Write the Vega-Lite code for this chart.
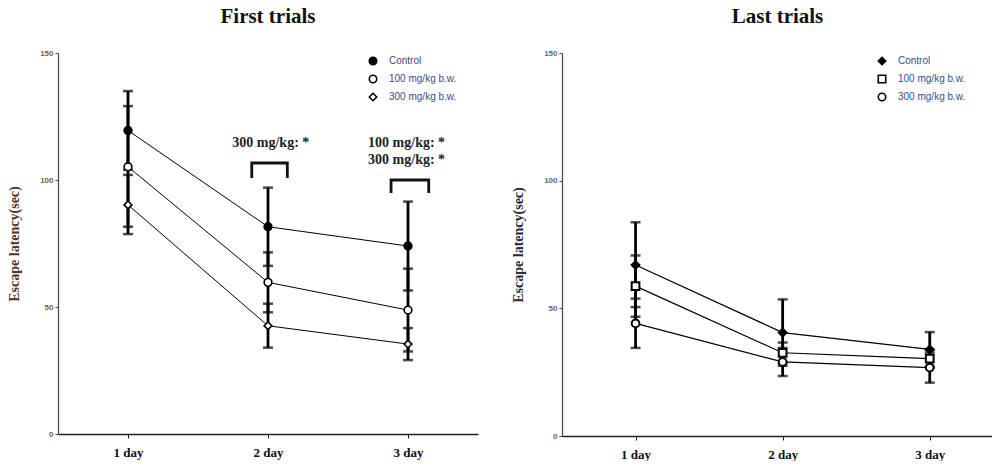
{
  "$schema": "https://vega.github.io/schema/vega-lite/v6.json",
  "padding": {"left": 7, "top": 6, "right": 0, "bottom": 0},
  "background": "white",
  "spacing": 33,
  "config": {
    "view": {"stroke": null},
    "title": {"font": "Liberation Serif", "fontSize": 21, "fontWeight": "bold", "color": "#111", "offset": 22},
    "axisY": {"labelFont": "Liberation Sans", "labelFontSize": 8, "labelFontWeight": "bold", "labelColor": "#8b5a2b", "tickSize": 3, "tickColor": "#444", "domainColor": "#444", "domainWidth": 1.2, "grid": false, "titleFont": "Liberation Serif", "titleFontSize": 14, "titleFontWeight": "bold", "titleColor": "#5a3320", "titlePadding": 18, "labelPadding": 2},
    "axisX": {"labelFont": "Liberation Serif", "labelFontSize": 13, "labelFontWeight": "bold", "labelColor": "#111", "tickSize": 4, "tickColor": "#222", "domainColor": "#222", "domainWidth": 1.6, "grid": false, "labelPadding": 8, "title": null},
    "legend": {"labelFont": "Liberation Sans", "labelFontSize": 10, "labelColor": "#3a4a8a", "labelOffset": 11, "rowPadding": 4, "symbolStrokeWidth": 1.6, "symbolSize": 55}
  },
  "datasets": {
    "first": [
      {"day": 1, "group": "Control", "mean": 119.5, "lo": 104, "hi": 135},
      {"day": 2, "group": "Control", "mean": 81.6, "lo": 66.2, "hi": 97},
      {"day": 3, "group": "Control", "mean": 74, "lo": 56.5, "hi": 91.5},
      {"day": 1, "group": "100 mg/kg b.w.", "mean": 105.2, "lo": 81.6, "hi": 129.1},
      {"day": 2, "group": "100 mg/kg b.w.", "mean": 59.7, "lo": 47.9, "hi": 71.5},
      {"day": 3, "group": "100 mg/kg b.w.", "mean": 48.8, "lo": 32.5, "hi": 65.1},
      {"day": 1, "group": "300 mg/kg b.w.", "mean": 90.2, "lo": 78.7, "hi": 102},
      {"day": 2, "group": "300 mg/kg b.w.", "mean": 42.6, "lo": 34, "hi": 51.3},
      {"day": 3, "group": "300 mg/kg b.w.", "mean": 35.4, "lo": 29.1, "hi": 41.7}
    ],
    "last": [
      {"day": 1, "group": "Control", "mean": 67, "lo": 50.5, "hi": 83.7},
      {"day": 2, "group": "Control", "mean": 40.5, "lo": 27.5, "hi": 53.5},
      {"day": 3, "group": "Control", "mean": 33.9, "lo": 27.1, "hi": 40.7},
      {"day": 1, "group": "100 mg/kg b.w.", "mean": 58.7, "lo": 46.7, "hi": 70.7},
      {"day": 2, "group": "100 mg/kg b.w.", "mean": 32.6, "lo": 28.6, "hi": 36.6},
      {"day": 3, "group": "100 mg/kg b.w.", "mean": 30.3, "lo": 26.8, "hi": 33.8},
      {"day": 1, "group": "300 mg/kg b.w.", "mean": 44.1, "lo": 34.5, "hi": 53.8},
      {"day": 2, "group": "300 mg/kg b.w.", "mean": 29, "lo": 23.5, "hi": 34.5},
      {"day": 3, "group": "300 mg/kg b.w.", "mean": 26.8, "lo": 20.9, "hi": 32.7}
    ],
    "notes": [
      {"x": 2.02, "y": 114.6, "label": "300 mg/kg: *"},
      {"x": 2.99, "y": 114.6, "label": "100 mg/kg: *"},
      {"x": 2.99, "y": 107.9, "label": "300 mg/kg: *"}
    ],
    "brackets": [
      {"b": "a", "o": 1, "x": 1.884, "y": 100.8},
      {"b": "a", "o": 2, "x": 1.884, "y": 106.7},
      {"b": "a", "o": 3, "x": 2.138, "y": 106.7},
      {"b": "a", "o": 4, "x": 2.138, "y": 100.8},
      {"b": "b", "o": 1, "x": 2.879, "y": 94.9},
      {"b": "b", "o": 2, "x": 2.879, "y": 100},
      {"b": "b", "o": 3, "x": 3.148, "y": 100},
      {"b": "b", "o": 4, "x": 3.148, "y": 94.9}
    ]
  },
  "hconcat": [
    {
      "title": "First trials",
      "width": 420,
      "height": 381,
      "layer": [
        {
          "data": {"name": "first"},
          "mark": {"type": "line", "color": "black", "strokeWidth": 1},
          "encoding": {
            "x": {"field": "day", "type": "quantitative", "scale": {"domain": [0.5, 3.5], "nice": false}, "axis": {"values": [1, 2, 3], "labelExpr": "datum.value + ' day'"}},
            "y": {"field": "mean", "type": "quantitative", "scale": {"domain": [0, 150], "nice": false}, "axis": {"values": [0, 50, 100, 150], "title": "Escape latency(sec)"}},
            "detail": {"field": "group"}
          }
        },
        {
          "data": {"name": "first"},
          "mark": {"type": "rule", "color": "black", "strokeWidth": 2.8},
          "encoding": {
            "x": {"field": "day", "type": "quantitative"},
            "y": {"field": "lo", "type": "quantitative"},
            "y2": {"field": "hi"}
          }
        },
        {
          "data": {"name": "first"},
          "mark": {"type": "tick", "color": "black", "orient": "horizontal", "size": 10, "thickness": 2.5},
          "encoding": {
            "x": {"field": "day", "type": "quantitative"},
            "y": {"field": "lo", "type": "quantitative"}
          }
        },
        {
          "data": {"name": "first"},
          "mark": {"type": "tick", "color": "black", "orient": "horizontal", "size": 10, "thickness": 2.5},
          "encoding": {
            "x": {"field": "day", "type": "quantitative"},
            "y": {"field": "hi", "type": "quantitative"}
          }
        },
        {
          "data": {"name": "first"},
          "mark": {"type": "point", "filled": true, "strokeWidth": 1.6, "size": 60, "opacity": 1},
          "encoding": {
            "x": {"field": "day", "type": "quantitative"},
            "y": {"field": "mean", "type": "quantitative"},
            "shape": {"field": "group", "type": "nominal", "scale": {"domain": ["Control", "100 mg/kg b.w.", "300 mg/kg b.w."], "range": ["circle", "circle", "diamond"]}, "legend": {"title": null, "orient": "none", "legendX": 310, "legendY": 3}},
            "fill": {"field": "group", "type": "nominal", "scale": {"domain": ["Control", "100 mg/kg b.w.", "300 mg/kg b.w."], "range": ["black", "white", "white"]}, "legend": {"title": null, "orient": "none", "legendX": 310, "legendY": 3}},
            "stroke": {"field": "group", "type": "nominal", "scale": {"domain": ["Control", "100 mg/kg b.w.", "300 mg/kg b.w."], "range": ["black", "black", "black"]}, "legend": {"title": null, "orient": "none", "legendX": 310, "legendY": 3}}
          }
        },
        {
          "data": {"name": "notes"},
          "mark": {"type": "text", "font": "Liberation Serif", "fontSize": 14, "fontWeight": "bold", "color": "#222", "baseline": "middle"},
          "encoding": {
            "x": {"field": "x", "type": "quantitative"},
            "y": {"field": "y", "type": "quantitative"},
            "text": {"field": "label"}
          }
        },
        {
          "data": {"name": "brackets"},
          "mark": {"type": "line", "color": "#111", "strokeWidth": 2.8},
          "encoding": {
            "x": {"field": "x", "type": "quantitative"},
            "y": {"field": "y", "type": "quantitative"},
            "detail": {"field": "b"},
            "order": {"field": "o"}
          }
        }
      ]
    },
    {
      "title": "Last trials",
      "width": 431,
      "height": 383,
      "layer": [
        {
          "data": {"name": "last"},
          "mark": {"type": "line", "color": "black", "strokeWidth": 1.2},
          "encoding": {
            "x": {"field": "day", "type": "quantitative", "scale": {"domain": [0.5, 3.43], "nice": false}, "axis": {"values": [1, 2, 3], "labelExpr": "datum.value + ' day'"}},
            "y": {"field": "mean", "type": "quantitative", "scale": {"domain": [0, 150], "nice": false}, "axis": {"values": [0, 50, 100, 150], "title": "Escape latency(sec)", "titleColor": "#2a2a3a", "labelColor": "#5a6a7a"}},
            "detail": {"field": "group"}
          }
        },
        {
          "data": {"name": "last"},
          "mark": {"type": "rule", "color": "black", "strokeWidth": 2.8},
          "encoding": {
            "x": {"field": "day", "type": "quantitative"},
            "y": {"field": "lo", "type": "quantitative"},
            "y2": {"field": "hi"}
          }
        },
        {
          "data": {"name": "last"},
          "mark": {"type": "tick", "color": "black", "orient": "horizontal", "size": 10, "thickness": 2.5},
          "encoding": {
            "x": {"field": "day", "type": "quantitative"},
            "y": {"field": "lo", "type": "quantitative"}
          }
        },
        {
          "data": {"name": "last"},
          "mark": {"type": "tick", "color": "black", "orient": "horizontal", "size": 10, "thickness": 2.5},
          "encoding": {
            "x": {"field": "day", "type": "quantitative"},
            "y": {"field": "hi", "type": "quantitative"}
          }
        },
        {
          "data": {"name": "last"},
          "mark": {"type": "point", "filled": true, "strokeWidth": 2, "size": 60, "opacity": 1},
          "encoding": {
            "x": {"field": "day", "type": "quantitative"},
            "y": {"field": "mean", "type": "quantitative"},
            "shape": {"field": "group", "type": "nominal", "scale": {"domain": ["Control", "100 mg/kg b.w.", "300 mg/kg b.w."], "range": ["diamond", "square", "circle"]}, "legend": {"title": null, "orient": "none", "legendX": 315, "legendY": 3}},
            "fill": {"field": "group", "type": "nominal", "scale": {"domain": ["Control", "100 mg/kg b.w.", "300 mg/kg b.w."], "range": ["black", "white", "white"]}, "legend": {"title": null, "orient": "none", "legendX": 315, "legendY": 3}},
            "stroke": {"field": "group", "type": "nominal", "scale": {"domain": ["Control", "100 mg/kg b.w.", "300 mg/kg b.w."], "range": ["black", "black", "black"]}, "legend": {"title": null, "orient": "none", "legendX": 315, "legendY": 3}}
          }
        }
      ]
    }
  ],
  "resolve": {"scale": {"shape": "independent", "fill": "independent", "stroke": "independent", "x": "independent", "y": "independent"}, "legend": {"shape": "independent", "fill": "independent", "stroke": "independent"}}
}
